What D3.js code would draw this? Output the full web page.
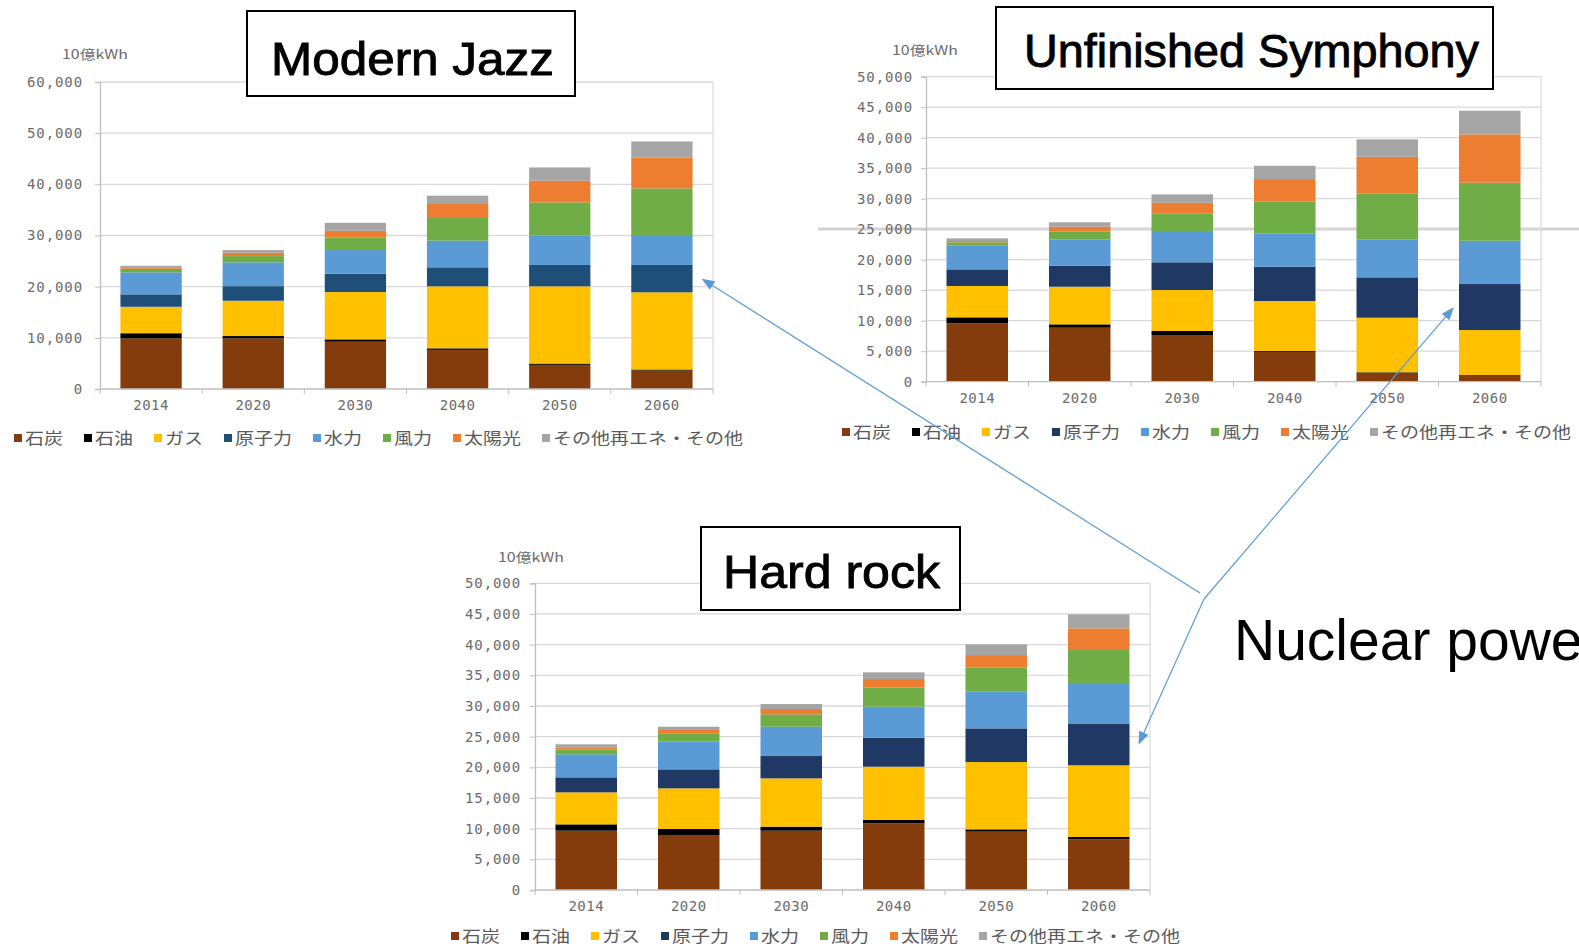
<!DOCTYPE html>
<html>
<head>
<meta charset="utf-8">
<script src="https://cdn.jsdelivr.net/npm/d3@7"></script>
<style>
  html, body { margin: 0; padding: 0; background: #fff; }
  svg { display: block; }
</style>
</head>
<body>
<svg id="chart" width="1579" height="949"></svg>
<script>
// ---- Data (10億kWh) ----
const years = ["2014", "2020", "2030", "2040", "2050", "2060"];
const sources = ["石炭", "石油", "ガス", "原子力", "水力", "風力", "太陽光", "その他再エネ・その他"];
const sourceColors = ["#843c0c", "#000000", "#ffc000", "#1f4e79", "#5b9bd5", "#70ad47", "#ed7d31", "#a5a5a5"];

// Modern Jazz
const jazzCoal    = [9900, 9900, 9240, 7650, 4720, 3610];
const jazzOil     = [1000,  450,  460,  300,  250,  200];
const jazzGas     = [5170, 6900, 9250, 12120, 15100, 15090];
const jazzNuclear = [2430, 2850, 3570, 3710, 4170, 5340];
const jazzHydro   = [4300, 4650, 4630, 5210, 5730, 5860];
const jazzWind    = [ 700, 1230, 2480, 4430, 6500, 9100];
const jazzSolar   = [ 300,  640, 1290, 2730, 4240, 6060];
const jazzOther   = [ 280,  530, 1560, 1630, 2590, 3120];

// Unfinished Symphony
const symphonyCoal    = [9570, 8850, 7650, 4900, 1440, 1000];
const symphonyOil     = [ 980,  550,  660,  150,  100,  100];
const symphonyGas     = [5140, 6170, 6720, 8180, 8950, 7370];
const symphonyNuclear = [2730, 3440, 4540, 5620, 6620, 7540];
const symphonyHydro   = [3870, 4330, 5130, 5470, 6230, 7100];
const symphonyWind    = [ 560, 1310, 2900, 5180, 7540, 9510];
const symphonySolar   = [ 210,  760, 1740, 3720, 6000, 7930];
const symphonyOther   = [ 440,  720, 1370, 2180, 2850, 3870];

// Hard rock
const rockCoal    = [9670, 8970, 9670, 10870, 9510, 8260];
const rockOil     = [1030,  970,  650,   540,  380,  380];
const rockGas     = [5220, 6630, 7880,  8690, 10970, 11690];
const rockNuclear = [2450, 3100, 3640,  4730, 5490, 6730];
const rockHydro   = [3750, 4510, 4780,  5050, 5980, 6520];
const rockWind    = [ 810, 1360, 2020,  3100, 3970, 5540];
const rockSolar   = [ 330,  540,  860,  1410, 2000, 3540];
const rockOther   = [ 490,  540,  820,  1090, 1750, 2280];

const yTicksJazz = [0, 10000, 20000, 30000, 40000, 50000, 60000];
const yTicksOther = [0, 5000, 10000, 15000, 20000, 25000, 30000, 35000, 40000, 45000, 50000];

const unitLabel = "10億kWh";
const annotationText = "Nuclear power";

// ---- Layout of the three panels ----
const panels = [
  {
    title: "Modern Jazz",
    series: [jazzCoal, jazzOil, jazzGas, jazzNuclear, jazzHydro, jazzWind, jazzSolar, jazzOther],
    ticks: yTicksJazz,
    nuclearColor: "#1f4e79",
    plot: { x: 100, y: 82, w: 613, h: 307 },
    labelGap: 12,
    unit: { x: 62, y: 59 },
    legend: { x: 14, y: 438 },
    box: { x: 247, y: 11, w: 328, h: 85, tx: 271, ty: 75, tw: 283 },
    arrowTip: "right"
  },
  {
    title: "Unfinished Symphony",
    series: [symphonyCoal, symphonyOil, symphonyGas, symphonyNuclear, symphonyHydro, symphonyWind, symphonySolar, symphonyOther],
    ticks: yTicksOther,
    nuclearColor: "#203864",
    plot: { x: 926, y: 76.7, w: 615, h: 305 },
    labelGap: 8,
    unit: { x: 892, y: 55 },
    legend: { x: 842, y: 432 },
    box: { x: 996, y: 7, w: 497, h: 82, tx: 1024, ty: 67, tw: 455 },
    arrowTip: "left"
  },
  {
    title: "Hard rock",
    series: [rockCoal, rockOil, rockGas, rockNuclear, rockHydro, rockWind, rockSolar, rockOther],
    ticks: yTicksOther,
    nuclearColor: "#203864",
    plot: { x: 535, y: 583.3, w: 615, h: 306.7 },
    labelGap: 9,
    unit: { x: 498, y: 562 },
    legend: { x: 451, y: 936 },
    box: { x: 701, y: 527, w: 259, h: 83, tx: 723, ty: 588, tw: 217 },
    arrowTip: "right"
  }
];

const svg = d3.select("#chart");
svg.append("rect").attr("width", 1579).attr("height", 949).attr("fill", "#fff");

const axisFont = "'DejaVu Sans Mono', 'Liberation Mono', monospace";
const cjkFont = "'Noto Sans CJK JP', 'Noto Sans', sans-serif";
const textGray = "#6b6b6b";
const nuclearTargets = [];

// Band across the right-hand panel
svg.append("line")
  .attr("x1", 818).attr("x2", 1579).attr("y1", 229).attr("y2", 229)
  .attr("stroke", "#d2d2d2").attr("stroke-width", 3);

panels.forEach(p => {
  const g = svg.append("g");
  const { x: px, y: py, w: pw, h: ph } = p.plot;
  const y0 = py + ph;
  const yMax = p.ticks[p.ticks.length - 1];

  const x = d3.scaleBand().domain(years).range([px, px + pw])
    .paddingInner(0.4).paddingOuter(0.2);
  const y = d3.scaleLinear().domain([0, yMax]).range([y0, py]);

  const colors = sourceColors.slice();
  colors[3] = p.nuclearColor;

  // gridlines
  g.append("g").selectAll("line")
    .data(p.ticks.filter(t => t > 0))
    .join("line")
    .attr("x1", px).attr("x2", px + pw)
    .attr("y1", d => y(d)).attr("y2", d => y(d))
    .attr("stroke", "#d9d9d9").attr("stroke-width", 1.3);

  // right border of plot area
  g.append("line")
    .attr("x1", px + pw).attr("x2", px + pw)
    .attr("y1", py).attr("y2", y0)
    .attr("stroke", "#dedede").attr("stroke-width", 1.3);

  // stacked bars
  const rows = years.map((yr, i) => {
    const r = { year: yr };
    sources.forEach((s, k) => { r[k] = p.series[k][i]; });
    return r;
  });
  const stack = d3.stack().keys(d3.range(sources.length))(rows);
  g.append("g").selectAll("g")
    .data(stack)
    .join("g")
    .attr("fill", d => colors[d.key])
    .selectAll("rect")
    .data(d => d)
    .join("rect")
    .attr("x", d => x(d.data.year))
    .attr("width", x.bandwidth())
    .attr("y", d => y(d[1]))
    .attr("height", d => y(d[0]) - y(d[1]));

  // where the nuclear segment of the last bar sits
  const lastYear = years[years.length - 1];
  const nuc = stack[3][years.length - 1];
  nuclearTargets.push({
    x: p.arrowTip === "right" ? x(lastYear) + x.bandwidth() + 9 : x(lastYear) - 5,
    y: y((nuc[0] + nuc[1]) / 2)
  });

  // y axis
  const yAxis = d3.axisLeft(y)
    .tickValues(p.ticks)
    .tickSize(5)
    .tickPadding(p.labelGap)
    .tickFormat(d3.format(","));
  const ya = g.append("g").attr("transform", `translate(${px},0)`).call(yAxis);
  ya.select(".domain").attr("stroke", "#bfbfbf").attr("stroke-width", 1.3);
  ya.selectAll(".tick line").attr("stroke", "#bfbfbf");
  ya.selectAll(".tick text")
    .attr("fill", textGray)
    .style("font-family", axisFont)
    .style("font-size", "14px")
    .style("letter-spacing", "0.9px");

  // x axis
  const step = x.step();
  g.append("line")
    .attr("x1", px).attr("x2", px + pw).attr("y1", y0).attr("y2", y0)
    .attr("stroke", "#bfbfbf").attr("stroke-width", 1.3);
  g.append("g").selectAll("line")
    .data(d3.range(years.length + 1))
    .join("line")
    .attr("x1", i => px + i * step).attr("x2", i => px + i * step)
    .attr("y1", y0).attr("y2", y0 + 5)
    .attr("stroke", "#bfbfbf");
  g.append("g").selectAll("text")
    .data(years)
    .join("text")
    .attr("x", d => x(d) + x.bandwidth() / 2)
    .attr("y", y0 + 21)
    .attr("text-anchor", "middle")
    .attr("fill", textGray)
    .style("font-family", axisFont)
    .style("font-size", "14px")
    .style("letter-spacing", "0.5px")
    .text(d => d);

  // unit label
  g.append("text")
    .attr("x", p.unit.x).attr("y", p.unit.y)
    .attr("fill", textGray)
    .attr("textLength", 66)
    .attr("lengthAdjust", "spacingAndGlyphs")
    .style("font-family", cjkFont)
    .style("font-size", "13px")
    .text(unitLabel);

  // legend: wide, short glyphs laid out one after another
  const lg = g.append("g");
  let lx = p.legend.x;
  sources.forEach((s, k) => {
    lg.append("rect")
      .attr("x", lx).attr("y", p.legend.y - 4)
      .attr("width", 8).attr("height", 8)
      .attr("fill", colors[k]);
    const w = s.length * 19;
    lg.append("text")
      .attr("x", lx + 11).attr("y", p.legend.y)
      .attr("dy", "0.36em")
      .attr("fill", "#595959")
      .attr("textLength", w)
      .attr("lengthAdjust", "spacingAndGlyphs")
      .style("font-family", cjkFont)
      .style("font-size", "16px")
      .text(s);
    lx += 11 + w + 21;
  });

  // title box
  svg.append("rect")
    .attr("x", p.box.x).attr("y", p.box.y)
    .attr("width", p.box.w).attr("height", p.box.h)
    .attr("fill", "#fff").attr("stroke", "#000").attr("stroke-width", 2);
  svg.append("text")
    .attr("x", p.box.tx).attr("y", p.box.ty)
    .attr("textLength", p.box.tw)
    .attr("lengthAdjust", "spacingAndGlyphs")
    .attr("fill", "#000")
    .attr("stroke", "#000")
    .attr("stroke-width", 0.9)
    .style("font-family", "'Liberation Sans', Arial, sans-serif")
    .style("font-size", "47px")
    .text(p.title);
});

// annotation
svg.append("text")
  .attr("x", 1234).attr("y", 660)
  .attr("fill", "#000")
  .style("font-family", "'Liberation Sans', Arial, sans-serif")
  .style("font-size", "57px")
  .text(annotationText);

// arrows from the annotation to each nuclear segment
const arrowColor = "#5b9bd5";
const origins = [[1200, 593], [1204, 599], [1204, 599]];
nuclearTargets.forEach((tip, i) => {
  const [ox, oy] = origins[i];
  const ang = Math.atan2(tip.y - oy, tip.x - ox);
  const len = 13, half = 5;
  const bx = tip.x - len * Math.cos(ang), by = tip.y - len * Math.sin(ang);
  svg.append("line")
    .attr("x1", ox).attr("y1", oy).attr("x2", bx).attr("y2", by)
    .attr("stroke", arrowColor).attr("stroke-width", 1.2);
  const pts = [
    [tip.x, tip.y],
    [bx + half * Math.sin(ang), by - half * Math.cos(ang)],
    [bx - half * Math.sin(ang), by + half * Math.cos(ang)]
  ];
  svg.append("polygon")
    .attr("points", pts.map(q => q.join(",")).join(" "))
    .attr("fill", arrowColor);
});
</script>
</body>
</html>
